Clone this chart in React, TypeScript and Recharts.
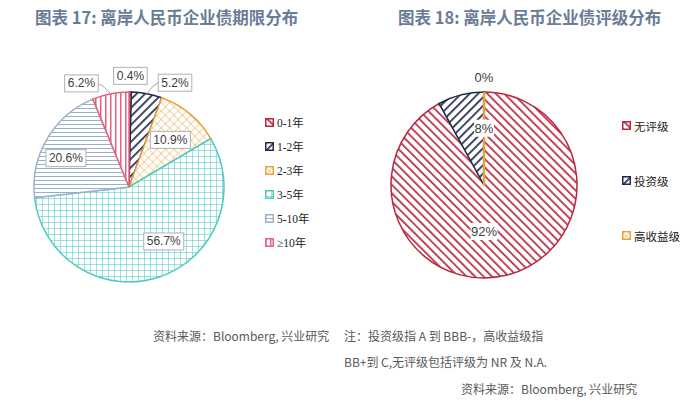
import { PieChart, Pie, Cell, Legend } from "recharts"

// 图表 17: 期限分布 (%)
const termNames = ["0-1年", "1-2年", "2-3年", "3-5年", "5-10年", "≥10年"]
const termValues = [0.4, 5.2, 10.9, 56.7, 20.6, 6.2]

// 图表 18: 评级分布 (%)
const ratingNames = ["无评级", "投资级", "高收益级"]
const ratingValues = [92, 8, 0]

const termData = termNames.map((name, i) => ({ name, value: termValues[i] }))
const ratingData = ratingNames.map((name, i) => ({ name, value: ratingValues[i] }))

const TERM_COLORS = ["#b8283f", "#1f2b4a", "#e8a23a", "#4ccbc2", "#9bb0cd", "#e8607b"]
const TERM_PATTERNS = ["p-red", "p-navy", "p-orange", "p-teal", "p-slate", "p-pink"]
const RATING_COLORS = ["#b8283f", "#1f2b4a", "#e8a23a"]
const RATING_PATTERNS = ["p-red", "p-navy", "p-orange"]

// label placement: radius factor and angle shift per slice
const LEFT_R = [1.17, 1.2, 0.66, 0.68, 0.73, 1.2]
const LEFT_SHIFT = [0, -13, -1.5, 14, 6, 13.5]
const LEFT_LEADER = [false, true, false, false, false, true]
const RIGHT_R = [0.5, 0.61, 1.16]
const RIGHT_SHIFT = [-14.4, -14.4, 0]

const RADIAN = Math.PI / 180
const TITLE_COLOR = "#6b7c97"
const NOTE_COLOR = "#595959"
const CJK_SANS = '"Noto Sans CJK SC", "Noto Sans", sans-serif'
const SERIF = '"Liberation Serif", "DejaVu Serif", "Noto Sans CJK SC", serif'

function Patterns() {
  return (
    <svg width={0} height={0} style={{ position: "absolute" }}>
      <defs>
        <pattern id="p-red" width={6} height={6} patternUnits="userSpaceOnUse" patternTransform="rotate(-45)">
          <rect width={6} height={6} fill="#fff" />
          <line x1={0} y1={0} x2={0} y2={6} stroke="#b8283f" strokeWidth={3.4} />
        </pattern>
        <pattern id="p-navy" width={6} height={6} patternUnits="userSpaceOnUse" patternTransform="rotate(45)">
          <rect width={6} height={6} fill="#fff" />
          <line x1={0} y1={0} x2={0} y2={6} stroke="#1f2b4a" strokeWidth={3.4} />
        </pattern>
        <pattern id="p-orange" width={6} height={6} patternUnits="userSpaceOnUse" patternTransform="rotate(45)">
          <rect width={6} height={6} fill="#fff" />
          <line x1={0} y1={0} x2={0} y2={6} stroke="#e8a23a" strokeWidth={0.9} />
          <line x1={0} y1={0} x2={6} y2={0} stroke="#e8a23a" strokeWidth={0.9} />
        </pattern>
        <pattern id="p-teal" width={6} height={6} patternUnits="userSpaceOnUse">
          <rect width={6} height={6} fill="#fff" />
          <line x1={0} y1={0} x2={0} y2={6} stroke="#4ccbc2" strokeWidth={1.1} />
          <line x1={0} y1={0} x2={6} y2={0} stroke="#4ccbc2" strokeWidth={1.1} />
        </pattern>
        <pattern id="p-slate" width={4} height={4} patternUnits="userSpaceOnUse">
          <rect width={4} height={4} fill="#fff" />
          <line x1={0} y1={0.5} x2={4} y2={0.5} stroke="#9bb0cd" strokeWidth={1} />
        </pattern>
        <pattern id="p-pink" width={5} height={5} patternUnits="userSpaceOnUse">
          <rect width={5} height={5} fill="#fff" />
          <line x1={0.75} y1={0} x2={0.75} y2={5} stroke="#e8607b" strokeWidth={1.5} />
        </pattern>
      </defs>
    </svg>
  )
}

function renderTermLabel(props: any) {
  const { cx, cy, midAngle, outerRadius, index, value } = props
  const ang = (midAngle + LEFT_SHIFT[index]) * RADIAN
  const r = outerRadius * LEFT_R[index]
  const x = cx + r * Math.cos(ang)
  const y = cy - r * Math.sin(ang)
  const text = Number(value).toFixed(1) + "%"
  const w = text.length * 6.4 + 8
  const h = 17
  let leader = null
  if (LEFT_LEADER[index]) {
    const m = midAngle * RADIAN
    const px = cx + outerRadius * Math.cos(m)
    const py = cy - outerRadius * Math.sin(m)
    const bx = px > x ? x + w / 2 : x - w / 2
    leader = <polyline points={`${bx},${y} ${(bx + px) / 2},${y + 4} ${px},${py}`} fill="none" stroke="#a6a6a6" strokeWidth={1} />
  }
  return (
    <g key={`tl-${index}`}>
      {leader}
      <rect x={x - w / 2} y={y - h / 2} width={w} height={h} fill="#fff" stroke="#b0b0b0" strokeWidth={1} />
      <text x={x} y={y} textAnchor="middle" dominantBaseline="central" fontSize={12} fill="#404040" fontFamily='"Liberation Sans", Arial, sans-serif'>
        {text}
      </text>
    </g>
  )
}

function renderRatingLabel(props: any) {
  const { cx, cy, midAngle, startAngle, outerRadius, index, value } = props
  const ang = (midAngle + RIGHT_SHIFT[index]) * RADIAN
  const r = outerRadius * RIGHT_R[index]
  const x = cx + r * Math.cos(ang)
  const y = cy - r * Math.sin(ang)
  const text = value + "%"
  const w = text.length * 7 + 6
  const h = 17
  // the zero-width last slice sits on the first slice's start edge;
  // draw it with the first label so the other label boxes cover it
  const last = ratingValues.length - 1
  const edge =
    index === 0 && ratingValues[last] === 0 ? (
      <line
        x1={cx}
        y1={cy}
        x2={cx + outerRadius * Math.cos(startAngle * RADIAN)}
        y2={cy - outerRadius * Math.sin(startAngle * RADIAN)}
        stroke={RATING_COLORS[last]}
        strokeWidth={2.5}
      />
    ) : null
  return (
    <g key={`rl-${index}`}>
      {edge}
      {value > 0 && <rect x={x - w / 2} y={y - h / 2} width={w} height={h} fill="#fff" />}
      <text x={x} y={y} textAnchor="middle" dominantBaseline="central" fontSize={13} fill="#404040" fontFamily='"Liberation Sans", Arial, sans-serif'>
        {text}
      </text>
    </g>
  )
}

function LegendList({ names, colors, patterns, gap }: { names: string[]; colors: string[]; patterns: string[]; gap: number }) {
  return (
    <div>
      {names.map((n, i) => (
        <div key={n} style={{ height: gap, display: "flex", alignItems: "center", fontFamily: SERIF, fontSize: 11.5, color: "#222" }}>
          <svg width={9} height={9} style={{ marginRight: 3 }}>
            <rect x={0.75} y={0.75} width={7.5} height={7.5} fill={`url(#${patterns[i]})`} stroke={colors[i]} strokeWidth={1.5} />
          </svg>
          {n}
        </div>
      ))}
    </div>
  )
}

export default function App() {
  return (
    <div style={{ position: "absolute", left: 0, top: 0, width: 700, height: 406, background: "#fff", overflow: "hidden" }}>
      <Patterns />
      <div style={{ position: "absolute", left: 35, top: 5, fontFamily: CJK_SANS, fontWeight: 700, fontSize: 16.5, color: TITLE_COLOR, whiteSpace: "nowrap" }}>
        图表 17: 离岸人民币企业债期限分布
      </div>
      <div style={{ position: "absolute", left: 398, top: 5, fontFamily: CJK_SANS, fontWeight: 700, fontSize: 16.5, color: TITLE_COLOR, whiteSpace: "nowrap" }}>
        图表 18: 离岸人民币企业债评级分布
      </div>

      <div style={{ position: "absolute", left: 0, top: 0 }}>
        <PieChart width={350} height={300} margin={{ top: 0, right: 0, bottom: 0, left: 0 }}>
          <Pie
            data={termData}
            dataKey="value"
            nameKey="name"
            cx={129}
            cy={187}
            outerRadius={95}
            startAngle={90}
            endAngle={-270}
            label={renderTermLabel}
            labelLine={false}
            isAnimationActive={false}
          >
            {termData.map((d, i) => (
              <Cell key={d.name} fill={`url(#${TERM_PATTERNS[i]})`} stroke={TERM_COLORS[i]} strokeWidth={1.5} />
            ))}
          </Pie>
          <Legend
            layout="vertical"
            align="right"
            verticalAlign="top"
            wrapperStyle={{ left: 265, top: 110, width: 80 }}
            content={() => <LegendList names={termNames} colors={TERM_COLORS} patterns={TERM_PATTERNS} gap={24} />}
          />
        </PieChart>
      </div>

      <div style={{ position: "absolute", left: 350, top: 0 }}>
        <PieChart width={350} height={300} margin={{ top: 0, right: 0, bottom: 0, left: 0 }}>
          <Pie
            data={ratingData}
            dataKey="value"
            nameKey="name"
            cx={134}
            cy={185}
            outerRadius={93}
            startAngle={90}
            endAngle={-270}
            label={renderRatingLabel}
            labelLine={false}
            isAnimationActive={false}
          >
            {ratingData.map((d, i) => (
              <Cell key={d.name} fill={`url(#${RATING_PATTERNS[i]})`} stroke={RATING_COLORS[i]} strokeWidth={1.5} />
            ))}
          </Pie>
          <Legend
            layout="vertical"
            align="right"
            verticalAlign="top"
            wrapperStyle={{ left: 272, top: 98, width: 78 }}
            content={() => <LegendList names={ratingNames} colors={RATING_COLORS} patterns={RATING_PATTERNS} gap={55} />}
          />
        </PieChart>
      </div>

      <div style={{ position: "absolute", left: 153, top: 327, fontFamily: CJK_SANS, fontSize: 12, color: NOTE_COLOR, whiteSpace: "nowrap" }}>
        资料来源：Bloomberg, 兴业研究
      </div>
      <div style={{ position: "absolute", left: 344, top: 327, fontFamily: CJK_SANS, fontSize: 12, color: NOTE_COLOR, whiteSpace: "nowrap" }}>
        注：投资级指 A 到 BBB-，高收益级指
      </div>
      <div style={{ position: "absolute", left: 344, top: 353, fontFamily: CJK_SANS, fontSize: 12, color: NOTE_COLOR, whiteSpace: "nowrap" }}>
        BB+到 C,无评级包括评级为 NR 及 N.A.
      </div>
      <div style={{ position: "absolute", left: 461, top: 380, fontFamily: CJK_SANS, fontSize: 12, color: NOTE_COLOR, whiteSpace: "nowrap" }}>
        资料来源：Bloomberg, 兴业研究
      </div>
    </div>
  )
}
